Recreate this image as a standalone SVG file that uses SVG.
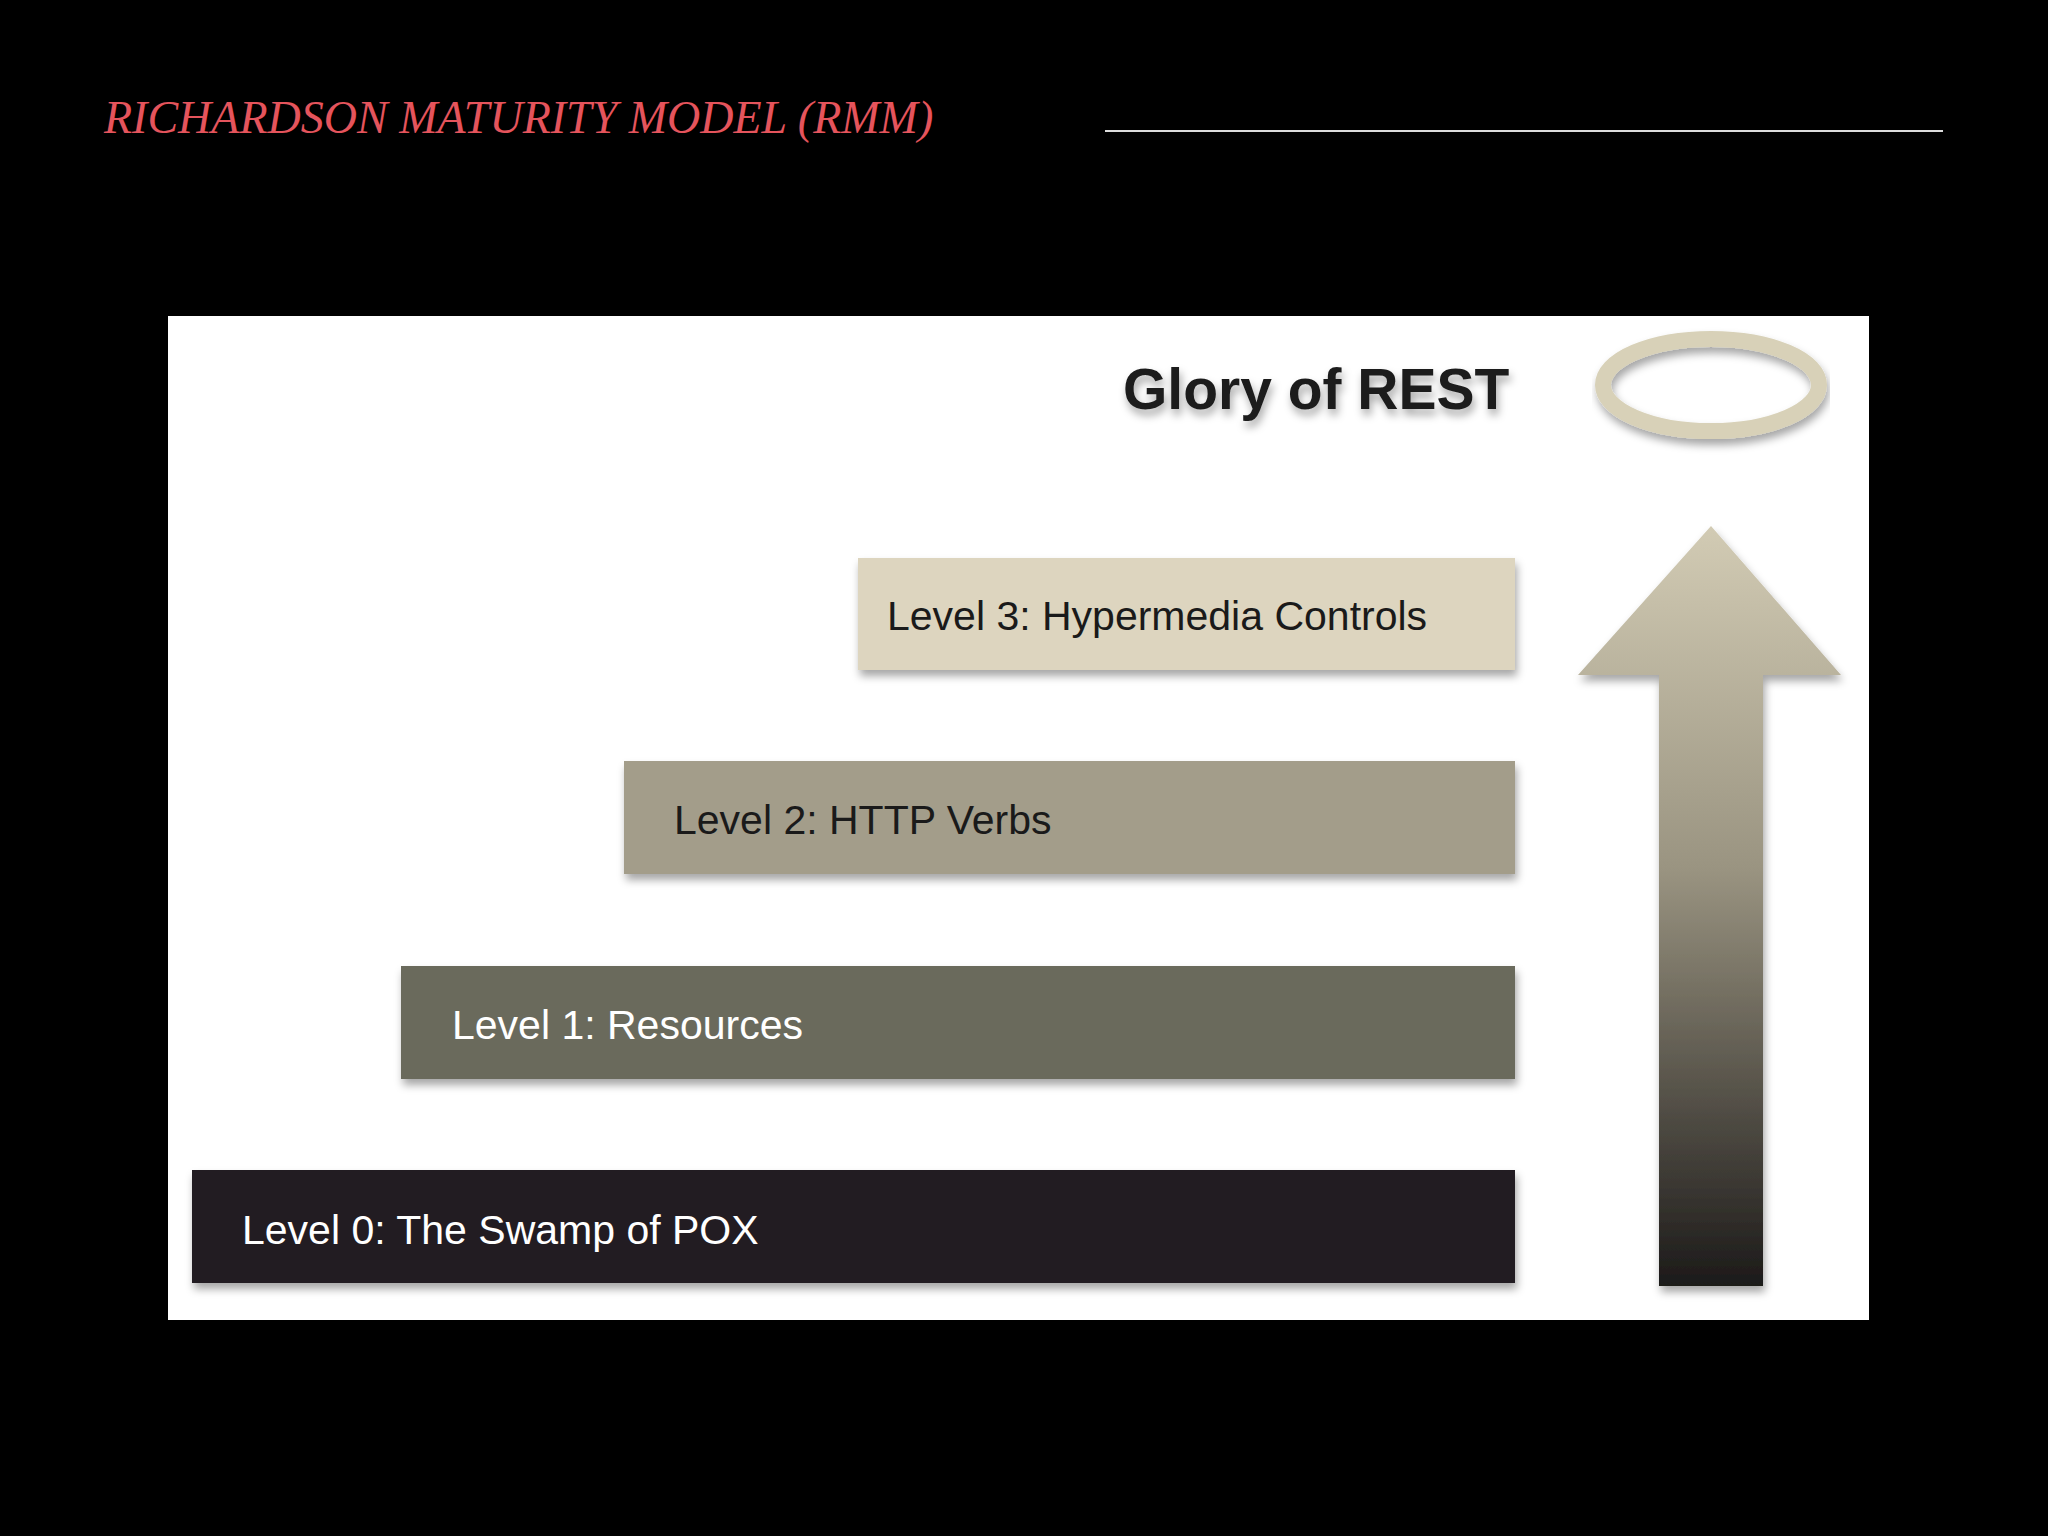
<svg xmlns="http://www.w3.org/2000/svg" width="2048" height="1536" viewBox="0 0 2048 1536">
<defs>
<style>
.lv{font-family:"Liberation Sans",Arial,sans-serif;font-size:41px}
.dk{fill:#1a1a1a}.lt{fill:#ffffff}
</style>
<linearGradient id="ag" x1="0" y1="0" x2="0" y2="1">
<stop offset="0" stop-color="#d2cbb4"/><stop offset="0.45" stop-color="#9a9481"/><stop offset="1" stop-color="#1c1a19"/>
</linearGradient>
<filter id="sh" x="-5%" y="-20%" width="110%" height="150%"><feDropShadow dx="2" dy="6" stdDeviation="4" flood-color="#000" flood-opacity="0.35"/></filter>
</defs>
<rect width="2048" height="1536" fill="#000"/>
<text x="104" y="133" font-family="Liberation Serif,serif" font-style="italic" font-size="46" fill="#e5545c">RICHARDSON MATURITY MODEL (RMM)</text>
<line x1="1105" y1="131" x2="1943" y2="131" stroke="#ddd" stroke-width="2"/>
<rect x="168" y="316" width="1701" height="1004" fill="#fff"/>
<g id="glory"><text x="1123" y="409" font-family="Liberation Sans,Arial,sans-serif" font-weight="bold" font-size="57" fill="#1a1a1a" filter="url(#sh)">Glory of REST</text>
<ellipse cx="1711" cy="385" rx="108" ry="46" fill="none" stroke="#d8d1b8" stroke-width="16" filter="url(#sh)"/></g>
<g id="level3"><rect x="858" y="558" width="657" height="112" fill="#ddd5bf" filter="url(#sh)"/><text class="lv dk" x="887" y="630">Level 3: Hypermedia Controls</text></g>
<g id="level2"><rect x="624" y="761" width="891" height="113" fill="#a39d8a" filter="url(#sh)"/><text class="lv dk" x="674" y="834">Level 2: HTTP Verbs</text></g>
<g id="level1"><rect x="401" y="966" width="1114" height="113" fill="#6b6a5c" filter="url(#sh)"/><text class="lv lt" x="452" y="1039">Level 1: Resources</text></g>
<g id="level0"><rect x="192" y="1170" width="1323" height="113" fill="#231f20" filter="url(#sh)"/><text class="lv lt" x="242" y="1244">Level 0: The Swamp of POX</text></g>
<g id="connectors"><polygon points="1711,526 1841,675 1763,675 1763,1286 1659,1286 1659,675 1578,675" fill="url(#ag)" filter="url(#sh)"/></g>
</svg>
